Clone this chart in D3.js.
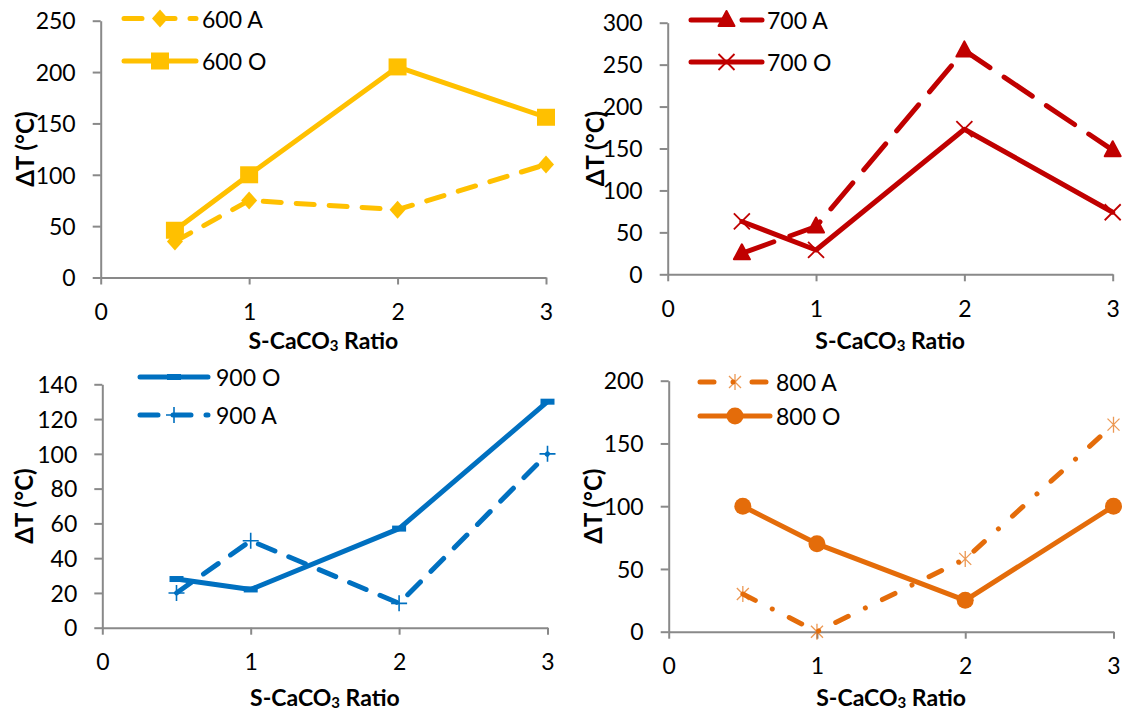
<!DOCTYPE html>
<html>
<head>
<meta charset="utf-8">
<script src="https://cdn.jsdelivr.net/npm/d3@7"></script>
<style>
  html, body { margin: 0; padding: 0; background: #fff; }
  svg { display: block; }
  text { font-family: Lato, "Open Sans", "Liberation Sans", sans-serif; fill: #000; }
</style>
</head>
<body>
<svg id="chart" width="1135" height="713"></svg>
<script>
// S-CaCO3 ratio on the x axis, temperature rise for each run on the y axis
const ratios = [0.5, 1, 2, 3];
const xTicks = [0, 1, 2, 3];

const t600A = [35, 75, 66, 110];
const t600O = [46, 100, 205, 156];
const t700A = [25, 57, 267, 148];
const t700O = [63, 29, 173, 74];
const t900O = [28, 22, 57, 130];
const t900A = [20, 50, 14, 100];
const t800A = [30, 0, 58, 165];
const t800O = [100, 70, 25, 100];

const yTicks600 = [0, 50, 100, 150, 200, 250];
const yTicks700 = [0, 50, 100, 150, 200, 250, 300];
const yTicks900 = [0, 20, 40, 60, 80, 100, 120, 140];
const yTicks800 = [0, 50, 100, 150, 200];

const C600 = "#FFC000", C700 = "#C00000", C900 = "#0070C0", C800 = "#E46C0A";
const AXIS = "#898989";
const FS = 23;

const svg = d3.select("#chart");

// marker painters
const markers = {
  diamond(g, c) { g.append("path").attr("d", "M0,-9L8,0L0,9L-8,0Z").attr("fill", c); },
  square(g, c) { g.append("rect").attr("x", -9).attr("y", -8.5).attr("width", 18).attr("height", 17).attr("fill", c); },
  triangle(g, c) { g.append("path").attr("d", "M0,-9L8,6L-8,6Z").attr("fill", c).attr("stroke", c).attr("stroke-width", 2).attr("stroke-linejoin", "round"); },
  cross(g, c) { g.append("path").attr("d", "M-8,-8L8,8M-8,8L8,-8").attr("stroke", c).attr("stroke-width", 1.8).attr("fill", "none"); },
  bar(g, c) { g.append("rect").attr("x", -7).attr("y", -3).attr("width", 14).attr("height", 6).attr("fill", c); },
  plus(g, c) { g.append("path").attr("d", "M-8,0L8,0M0,-8L0,8").attr("stroke", c).attr("stroke-width", 1.6).attr("fill", "none"); },
  circle(g, c) { g.append("circle").attr("r", 8.5).attr("fill", c); },
  star(g, c) { g.append("path").attr("d", "M-6,-6L6,6M-6,6L6,-6M0,-8L0,8").attr("stroke", c).attr("stroke-width", 1.3).attr("fill", "none").attr("opacity", 0.7); }
};

const DASH = "18,15", LONGDASH = "34,17", DASHDOT = "14,19,0.01,19";

const panels = [
  { x0: 100.7, x3: 546, y0: 277.5, yTop: 20.7, yMax: 250, yTicks: yTicks600,
    xTitleY: 340, yTitleX: 24.5,
    legend: { x1: 124, x2: 196, tx: 202, ys: [18.5, 61] },
    series: [
      { name: "600 A", values: t600A, color: C600, dash: DASH, marker: "diamond" },
      { name: "600 O", values: t600O, color: C600, dash: null, marker: "square" }
    ], order: [0, 1] },
  { x0: 667.7, x3: 1112.7, y0: 274.3, yTop: 22.7, yMax: 300, yTicks: yTicks700,
    xTitleY: 340, yTitleX: 594.6,
    legend: { x1: 691, x2: 762, tx: 767, ys: [20, 62] },
    series: [
      { name: "700 A", values: t700A, color: C700, dash: LONGDASH, marker: "triangle" },
      { name: "700 O", values: t700O, color: C700, dash: null, marker: "cross" }
    ], order: [0, 1] },
  { x0: 102.3, x3: 547.5, y0: 627.7, yTop: 384.3, yMax: 140, yTicks: yTicks900,
    xTitleY: 697, yTitleX: 23.4,
    legend: { x1: 140, x2: 208, tx: 216, ys: [377, 415] },
    series: [
      { name: "900 O", values: t900O, color: C900, dash: null, marker: "bar" },
      { name: "900 A", values: t900A, color: C900, dash: DASH, marker: "plus" }
    ], order: [1, 0] },
  { x0: 668.7, x3: 1113.5, y0: 631.7, yTop: 380.7, yMax: 200, yTicks: yTicks800,
    xTitleY: 697, yTitleX: 592,
    legend: { x1: 700, x2: 770, tx: 776, ys: [382, 416] },
    series: [
      { name: "800 A", values: t800A, color: C800, dash: DASHDOT, marker: "star" },
      { name: "800 O", values: t800O, color: C800, dash: null, marker: "circle" }
    ], order: [0, 1] }
];

panels.forEach(p => {
  const g = svg.append("g");
  const x = d3.scaleLinear().domain([0, 3]).range([p.x0, p.x3]);
  const y = d3.scaleLinear().domain([0, p.yMax]).range([p.y0, p.yTop]);

  // y axis
  const ya = g.append("g").attr("transform", `translate(${p.x0},0)`)
    .call(d3.axisLeft(y).tickValues(p.yTicks).tickFormat(d3.format("d"))
      .tickSize(8).tickPadding(17).tickSizeOuter(0));
  // x axis
  const xa = g.append("g").attr("transform", `translate(0,${p.y0})`)
    .call(d3.axisBottom(x).tickValues(xTicks).tickFormat(d3.format("d"))
      .tickSize(7).tickPadding(19).tickSizeOuter(0));

  [ya, xa].forEach(a => {
    a.select(".domain").attr("stroke", AXIS).attr("stroke-width", 2);
    a.selectAll(".tick line").attr("stroke", AXIS).attr("stroke-width", 2);
    a.selectAll(".tick text").attr("font-family", "Lato, 'Open Sans', sans-serif")
      .attr("font-size", FS).attr("fill", "#000");
  });
  ya.selectAll(".tick text").attr("dy", "0.36em");
  xa.selectAll(".tick text").attr("dy", "0.72em");

  // axis titles
  const xt = g.append("text").attr("x", (p.x0 + p.x3) / 2).attr("y", p.xTitleY)
    .attr("text-anchor", "middle").attr("dominant-baseline", "central")
    .attr("font-size", 23).attr("font-weight", "bold");
  xt.append("tspan").text("S-CaCO");
  xt.append("tspan").text("3").attr("font-size", 15).attr("dy", 5);
  xt.append("tspan").text(" Ratio").attr("dy", -5);

  g.append("text")
    .attr("transform", `translate(${p.yTitleX},${(p.y0 + p.yTop) / 2}) rotate(-90)`)
    .attr("text-anchor", "middle").attr("dominant-baseline", "central")
    .attr("font-size", 24).attr("font-weight", "bold")
    .text("ΔT (°C)");

  const line = d3.line().x(d => x(d[0])).y(d => y(d[1]));

  p.order.forEach(i => {
    const s = p.series[i];
    const pts = ratios.map((r, k) => [r, s.values[k]]);
    g.append("path").datum(pts).attr("d", line)
      .attr("fill", "none").attr("stroke", s.color).attr("stroke-width", 5)
      .attr("stroke-linecap", "round").attr("stroke-linejoin", "round")
      .attr("stroke-dasharray", s.dash);
    pts.forEach(pt => {
      const m = g.append("g").attr("transform", `translate(${x(pt[0])},${y(pt[1])})`);
      markers[s.marker](m, s.color);
    });
  });

  // legend
  p.series.forEach((s, i) => {
    const ly = p.legend.ys[i];
    g.append("line").attr("x1", p.legend.x1).attr("x2", p.legend.x2)
      .attr("y1", ly).attr("y2", ly)
      .attr("stroke", s.color).attr("stroke-width", 5).attr("stroke-linecap", "round")
      .attr("stroke-dasharray", s.dash);
    const m = g.append("g").attr("transform", `translate(${(p.legend.x1 + p.legend.x2) / 2},${ly})`);
    markers[s.marker](m, s.color);
    g.append("text").attr("x", p.legend.tx).attr("y", ly)
      .attr("dominant-baseline", "central").attr("font-size", FS)
      .text(s.name);
  });
});
</script>
</body>
</html>
